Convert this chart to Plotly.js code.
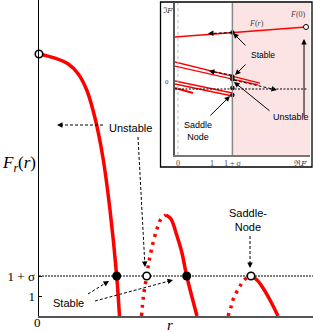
<!DOCTYPE html>
<html><head><meta charset="utf-8">
<script src="https://cdn.plot.ly/plotly-3.0.1.min.js"></script>
<style>html,body{margin:0;padding:0;background:#fff}#chart{width:313px;height:332px}</style>
</head><body><div id="chart"></div>
<script>
// ---------- main panel: F_r(r) branches ----------
const sigmaLevel = 2;            // 1 + sigma (sigma = 1 in these units)
const branch1R = [0, 1.6, 2.93, 3.93, 4.77, 5.6, 6.4, 7.1, 7.77, 8.05];
const branch1F = [13.1, 12.89, 12.6, 12.1, 11.3, 9.9, 7.9, 5.3, 2, 0];
const branch2UnstR = [10.25, 10.45, 10.77, 11.05, 11.4, 11.8, 12.2, 12.7];
const branch2UnstF = [0, 1.0, 2, 2.85, 3.65, 4.35, 4.85, 5.05];
const branch2StabR = [12.7, 13.2, 13.8, 14.3, 14.77, 15.8];
const branch2StabF = [5.05, 4.85, 4.0, 3.15, 2, 0];
const branch3UnstR = [18.9, 19.2, 19.5, 20.0, 20.5, 21.2];
const branch3UnstF = [0, 0.45, 0.95, 1.4, 1.8, 2];
const branch3StabR = [21.2, 21.8, 22.4, 23.1, 23.9];
const branch3StabF = [2, 1.8, 1.4, 0.8, 0];
const stableR = [7.77, 14.77];
const stableF = [2, 2];
const openR = [0, 10.77, 21.2];
const openF = [13.1, 2, 2];
const rMax = 27.4, fMax = 15.8;
const yTickVals = [1, 2];
const yTickText = ['1', '1 + σ'];

// ---------- inset: complex plane ----------
const xsInset = 1.6;             // 1 + sigma on the real axis
const lineA_re = [-0.088, 3.765], lineA_im = [1.529, 1.824];
const pairB1_re = [-0.088, 2.412], pairB1_im = [0.794, 0.176];
const pairB2_re = [-0.088, 2.353], pairB2_im = [0.676, 0.118];
const pairC1_re = [-0.088, 1.6], pairC1_im = [0.235, -0.118];
const pairC2_re = [-0.088, 1.6], pairC2_im = [0.147, -0.206];
const lineD_re = [-0.088, 0.441], lineD_im = [0.029, -0.118];
const insetDotsRe = [1.6, 1.6, 1.6, 1.6, 1.6];
const insetDotsIm = [1.66, 0.36, 0.29, 0.03, -0.18];
const insetOpenRe = [3.765], insetOpenIm = [1.824];
const insetTickVals = [0, 1, 1.6];
const insetTickText = ['0', '1', '1 + σ'];
const reRange = [-0.088, 3.882], imRange = [-1.941, 2.529];

const W = 313, H = 332;
const PX = p => p / W, PY = p => 1 - p / H;
const RED = '#ff0000';
const SERIF = 'Liberation Serif, DejaVu Serif, serif';
const SANS = 'Liberation Sans, Arial, sans-serif';

function ln(x, y, opts, ax) {
  return Object.assign({x, y, mode: 'lines', type: 'scatter', hoverinfo: 'skip',
    xaxis: ax ? 'x2' : 'x', yaxis: ax ? 'y2' : 'y'}, opts);
}
const traces = [
  ln([0, rMax], [sigmaLevel, sigmaLevel], {line: {color: '#000', width: 1, dash: '2px,1px'}}),
  ln(branch1R, branch1F, {line: {color: RED, width: 3.5, shape: 'spline', smoothing: 0.9}}),
  ln(branch2UnstR, branch2UnstF, {line: {color: RED, width: 3.5, dash: '3px,5px', shape: 'spline'}}),
  ln(branch2StabR, branch2StabF, {line: {color: RED, width: 3.5, shape: 'spline', smoothing: 0.9}}),
  ln(branch3UnstR, branch3UnstF, {line: {color: RED, width: 3.5, dash: '3px,5px', shape: 'spline'}}),
  ln(branch3StabR, branch3StabF, {line: {color: RED, width: 3.5, shape: 'spline'}}),
  {x: stableR, y: stableF, mode: 'markers', type: 'scatter', cliponaxis: false, hoverinfo: 'skip',
   marker: {size: 9, color: '#000'}},
  {x: openR, y: openF, mode: 'markers', type: 'scatter', cliponaxis: false, hoverinfo: 'skip',
   marker: {size: 7.5, color: '#fff', line: {color: '#000', width: 1.6}}},
  // inset
  ln(lineA_re, lineA_im, {line: {color: RED, width: 1.5}}, 1),
  ln(pairB1_re, pairB1_im, {line: {color: RED, width: 1.3}}, 1),
  ln(pairB2_re, pairB2_im, {line: {color: RED, width: 1.3}}, 1),
  ln(pairC1_re, pairC1_im, {line: {color: RED, width: 1.3}}, 1),
  ln(pairC2_re, pairC2_im, {line: {color: RED, width: 1.3}}, 1),
  ln(lineD_re, lineD_im, {line: {color: RED, width: 2}}, 1),
  {x: insetDotsRe, y: insetDotsIm, mode: 'markers', type: 'scatter', xaxis: 'x2', yaxis: 'y2',
   cliponaxis: false, hoverinfo: 'skip', marker: {size: 4.5, color: '#000'}},
  {x: insetOpenRe, y: insetOpenIm, mode: 'markers', type: 'scatter', xaxis: 'x2', yaxis: 'y2',
   cliponaxis: false, hoverinfo: 'skip', marker: {size: 5, color: '#fff', line: {color: '#000', width: 1}}}
];

const shapes = [
  {type: 'rect', xref: 'x2', yref: 'y2 domain', x0: xsInset, x1: reRange[1], y0: 0, y1: 1,
   fillcolor: '#fde4e4', line: {width: 0}, layer: 'below'},
  {type: 'line', xref: 'x2', yref: 'y2 domain', x0: 0, x1: 0, y0: 0, y1: 1,
   line: {color: '#bbb', width: 1, dash: 'dot'}},
  {type: 'line', xref: 'x2', yref: 'y2 domain', x0: xsInset, x1: xsInset, y0: 0, y1: 1,
   line: {color: '#888', width: 1.5}},
  {type: 'line', xref: 'x2 domain', yref: 'y2', x0: 0, x1: 0.98, y0: 0, y1: 0,
   line: {color: '#000', width: 1, dash: '2px,1.5px'}},
  {type: 'rect', xref: 'paper', yref: 'paper', x0: PX(160.5), x1: PX(312), y0: PY(167), y1: PY(2),
   line: {color: '#000', width: 1.3}}
];
const annotations = [];

function arrow(tail, head, inset, dashed) {
  const xr = inset ? 'x2' : 'x', yr = inset ? 'y2' : 'y';
  const sx = inset ? 34 : 10, sy = inset ? 34 : 20;
  if (!dashed) {
    annotations.push({x: head[0], y: head[1], ax: tail[0], ay: tail[1], xref: xr, yref: yr,
      axref: xr, ayref: yr, text: '', showarrow: true, arrowhead: 2, arrowsize: 1.1,
      arrowwidth: 1, arrowcolor: '#000'});
    return;
  }
  const dx = (tail[0] - head[0]) * sx, dy = -(tail[1] - head[1]) * sy;
  const L = Math.hypot(dx, dy), ux = dx / L, uy = dy / L;
  const bx = head[0] + ux * 4 / sx, by = head[1] - uy * 4 / sy;
  shapes.push({type: 'line', xref: xr, yref: yr, x0: tail[0], y0: tail[1], x1: bx, y1: by,
    line: {color: '#000', width: 1, dash: '3px,2px'}});
  annotations.push({x: head[0], y: head[1], ax: ux * 7, ay: uy * 7, xref: xr, yref: yr,
    text: '', showarrow: true, arrowhead: 2, arrowsize: 1.1, arrowwidth: 1, arrowcolor: '#000'});
}
// main arrows
arrow([6.4, 9.55], [1.8, 9.55], false, true);
arrow([9.9, 8.95], [10.6, 2.45], false, true);
arrow([4.9, 1.1], [7.0, 1.75], false, true);
arrow([5.6, 0.75], [13.4, 1.8], false, true);
arrow([21.1, 4.0], [21.1, 2.4], false, true);
// inset arrows
arrow([1.58, 1.66], [0.88, 1.63], true, true);
arrow([1.58, 0.41], [0.91, 0.53], true, true);
arrow([1.65, 0.26], [2.91, -0.03], true, true);
arrow([3.706, -0.853], [3.706, 1.47], true, false);
arrow([2.03, 1.235], [1.62, 1.647], true, false);
arrow([2.03, 0.765], [1.68, 0.41], true, false);
arrow([2.735, -0.676], [1.647, 0.206], true, false);
arrow([0.91, -0.82], [1.53, -0.206], true, false);

function txt(text, x, y, xr, yr, font) {
  annotations.push({text, x, y, xref: xr, yref: yr, showarrow: false, xanchor: 'center',
    yanchor: 'middle', font: Object.assign({color: '#000'}, font)});
}
txt('Unstable', 9.1, 9.4, 'x', 'y', {family: SANS, size: 11});
txt('Stable', 2.9, 0.65, 'x', 'y', {family: SANS, size: 11});
txt('Saddle-<br>Node', 20.9, 4.8, 'x', 'y', {family: SANS, size: 11});
txt('Stable', 2.5, 1.0, 'x2', 'y2', {family: SANS, size: 8.5});
txt('Unstable', 3.32, -0.82, 'x2', 'y2', {family: SANS, size: 9});
txt('Saddle<br>Node', 0.59, -1.235, 'x2', 'y2', {family: SANS, size: 9});
txt('<i>F</i>(<i>r</i>)', 2.32, 1.94, 'x2', 'y2', {family: SERIF, size: 8, color: '#444'});
txt('<i>F</i>(0)', 3.53, 2.18, 'x2', 'y2', {family: SERIF, size: 8, color: '#444'});
txt('<i>F</i><sub><i>r</i></sub>(<i>r</i>)', PX(19), PY(164), 'paper', 'paper', {family: SERIF, size: 17});
txt('<i>r</i>', PX(170), PY(325), 'paper', 'paper', {family: SERIF, size: 15});
txt('0', PX(37), PY(322), 'paper', 'paper', {family: SERIF, size: 13});
txt('ℑ<i>F</i>', PX(168), PY(11), 'paper', 'paper', {family: 'DejaVu Serif, serif', size: 8, color: '#444'});
txt('ℜ<i>F</i>', PX(300), PY(163), 'paper', 'paper', {family: 'DejaVu Serif, serif', size: 8, color: '#444'});
txt('0', PX(167), PY(82), 'paper', 'paper', {family: SERIF, size: 7, color: '#444'});

const layout = {
  width: W, height: H, margin: {l: 0, r: 0, t: 0, b: 0},
  paper_bgcolor: '#fff', plot_bgcolor: 'rgba(0,0,0,0)', showlegend: false,
  xaxis: {domain: [PX(39), 1], range: [0, rMax], showgrid: false, zeroline: false,
    showline: true, linecolor: '#555', linewidth: 2, showticklabels: false, ticks: ''},
  yaxis: {domain: [PY(316), 1], range: [0, fMax], showgrid: false, zeroline: false,
    showline: true, linecolor: '#000', linewidth: 1.5, tickvals: yTickVals, ticktext: yTickText,
    ticks: 'inside', ticklen: 3, tickcolor: '#000', tickfont: {family: SERIF, size: 13, color: '#000'}},
  xaxis2: {domain: [PX(175), PX(310)], range: reRange, anchor: 'y2', showgrid: false, zeroline: false,
    showline: true, linecolor: '#777', linewidth: 1.5, tickvals: insetTickVals, ticktext: insetTickText,
    ticks: '', tickfont: {family: SERIF, size: 8, color: '#444'}},
  yaxis2: {domain: [PY(155), PY(3)], range: imRange, anchor: 'x2', showgrid: false, zeroline: false,
    showline: true, linecolor: '#555', linewidth: 2, showticklabels: false, ticks: ''},
  shapes, annotations
};
Plotly.newPlot('chart', traces, layout, {displayModeBar: false, staticPlot: true});
</script></body></html>
